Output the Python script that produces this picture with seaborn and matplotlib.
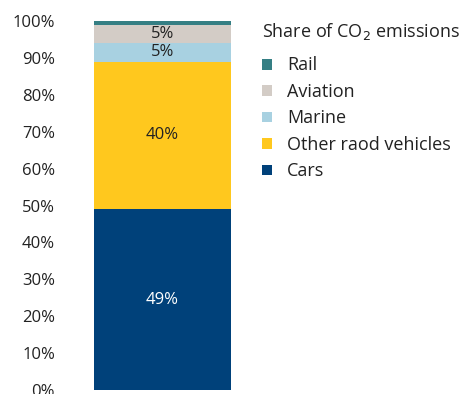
import matplotlib
matplotlib.use("Agg")
import matplotlib.pyplot as plt
import seaborn as sns
import numpy as np
from matplotlib.patches import Patch

categories = ["Cars", "Other raod vehicles", "Marine", "Aviation", "Rail"]
values = [49, 40, 5, 5, 1]
labels = ["49%", "40%", "5%", "5%", ""]
colors = ["#00417A", "#FFC81E", "#A8D1E1", "#D3CCC6", "#357F84"]
label_colors = ["white", "#222222", "#222222", "#222222", "#222222"]
yticks = [0, 10, 20, 30, 40, 50, 60, 70, 80, 90, 100]

sns.set_theme(style="white")
plt.rcParams["font.family"] = ["Open Sans", "DejaVu Sans"]

fig = plt.figure(figsize=(4.65, 3.94), dpi=100)
ax = fig.add_axes([94 / 465, 1 - 390 / 394, 137 / 465, (390 - 21) / 394])

cum = np.cumsum(values)
# draw from tallest cumulative to shortest so smaller ones overlay
for i in reversed(range(len(values))):
    sns.barplot(x=[""], y=[cum[i]], color=colors[i], width=1.0,
                saturation=1, ax=ax, linewidth=0)

for i, lab in enumerate(labels):
    if lab:
        mid = cum[i] - values[i] / 2
        ax.text(0, mid, lab, ha="center", va="center", fontsize=12,
                color=label_colors[i])

ax.set_xlim(-0.5, 0.5)
ax.set_ylim(0, 100)
ax.set_yticks(yticks)
ax.set_yticklabels([f"{t}%" for t in yticks], fontsize=12, color="#222222")
ax.set_xticks([])
ax.set_xlabel("")
ax.set_ylabel("")
ax.tick_params(axis="y", length=0, pad=28)
for s in ax.spines.values():
    s.set_visible(False)

handles = [Patch(facecolor=colors[i], edgecolor="none") for i in reversed(range(len(values)))]
names = [categories[i] for i in reversed(range(len(values)))]
leg = fig.legend(handles, names, title="Share of CO$_2$ emissions",
                 loc="upper left", bbox_to_anchor=(257 / 465, 1 - 16 / 394),
                 frameon=False, fontsize=13, title_fontsize=13,
                 handlelength=0.55, handleheight=0.55, handletextpad=0.8,
                 labelspacing=0.47, alignment="left", borderaxespad=0,
                 borderpad=0.3)
leg._legend_box.sep = 0.47 * 13 + 4.0
for t in leg.get_texts():
    t.set_color("#222222")
leg.get_title().set_color("#222222")

fig.savefig("out.png", dpi=100)
